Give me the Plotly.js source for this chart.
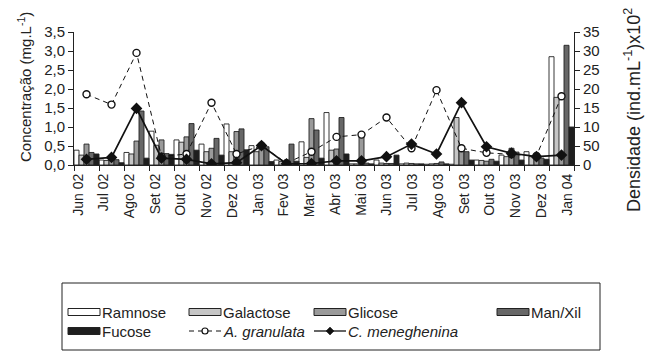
<!DOCTYPE html>
<html>
<head>
<meta charset="utf-8">
<script src="https://cdn.plot.ly/plotly-3.0.1.min.js"></script>
<style>html,body{margin:0;padding:0;background:#fff;}#chart{width:648px;height:362px;}</style>
</head>
<body>
<div id="chart"></div>
<script>
// ---- data ----
const months = ['Jun 02','Jul 02','Ago 02','Set 02','Out 02','Nov 02','Dez 02','Jan 03','Fev 03','Mar 03',
                'Abr 03','Mai 03','Jun 03','Jul 03','Ago 03','Set 03','Out 03','Nov 03','Dez 03','Jan 04'];
const ramnose   = [0.39,0.13,0.33,0.89,0.66,0.55,1.08,0.51,0.13,0.61,1.38,0.03,0.13,0.03,0.02,0.02,0.13,0.26,0.35,2.85];
const galactose = [0.26,0.12,0.29,0.52,0.60,0.35,0.35,0.35,0.09,0.20,0.39,0.03,0.05,0.05,0.03,1.25,0.12,0.22,0.22,1.78];
const glicose   = [0.55,0.18,0.63,0.66,0.74,0.44,0.88,0.57,0.10,1.22,0.42,0.78,0.04,0.04,0.04,0.40,0.10,0.44,0.22,0.20];
const manxil    = [0.33,0.14,1.42,0.30,1.09,0.70,0.95,0.48,0.55,0.92,1.25,0.05,0.04,0.03,0.08,0.35,0.15,0.34,0.18,3.15];
const fucose    = [0.29,0.06,0.18,0.28,0.39,0.26,0.40,0.09,0.10,0.18,0.29,0.03,0.26,0.03,0.03,0.13,0.10,0.13,0.15,1.00];
const aGranulata   = [18.6,15.9,29.5,2.2,2.9,16.4,2.9,5.1,0.5,3.5,7.4,8.0,12.5,4.4,19.7,4.4,3.2,2.8,2.4,18.1];
const cMeneghenina = [1.5,2.0,14.9,1.8,1.5,0.3,0.6,5.1,0.3,0.4,1.1,1.1,2.2,5.5,2.9,16.4,4.8,3.1,2.2,2.6];
const barNames = ['Ramnose','Galactose','Glicose','Man/Xil','Fucose'];
const lineNames = ['A. granulata','C. meneghenina'];
const yLeftTitle = 'Concentração (mg.L<sup>-1</sup>)';
const yRightTitle = 'Densidade (ind.mL<sup>-1</sup>)x10<sup>2</sup>';
const yLeftTicks = [0,0.5,1,1.5,2,2.5,3,3.5];
const yLeftTickText = ['0,0','0,5','1,0','1,5','2,0','2,5','3,0','3,5'];
const yRightTicks = [0,5,10,15,20,25,30,35];
const yRightTickText = ['0','50','10','15','20','25','30','35'];

// ---- style ----
const barColors = ['#ffffff','#c6c6c6','#9a9a9a','#676767','#1e1e1e'];
const FONT = 'Liberation Sans, Arial, sans-serif';
const INK = '#222';
const W = 648, H = 362, ML = 74, MR = 74, MT = 32, MB = 197;
const PW = W - ML - MR, PH = H - MT - MB;
const px = x => (x - ML) / PW;
const py = y => (H - MB - y) / PH;

const barSeries = [ramnose, galactose, glicose, manxil, fucose];
const traces = barSeries.map((vals, k) => ({
  type: 'bar', name: barNames[k], x: months, y: vals, xaxis: 'x', yaxis: 'y',
  marker: {color: barColors[k], line: {color: INK, width: 0.9}},
  showlegend: false, hoverinfo: 'skip'
}));
traces.push({
  type: 'scatter', mode: 'lines+markers', name: lineNames[0], x: months, y: aGranulata,
  xaxis: 'x', yaxis: 'y2',
  line: {color: '#111', width: 1, dash: '5px,4px'},
  marker: {symbol: 'circle', size: 7, color: '#fff', line: {color: '#111', width: 1.4}},
  showlegend: false, hoverinfo: 'skip'
});
traces.push({
  type: 'scatter', mode: 'lines+markers', name: lineNames[1], x: months, y: cMeneghenina,
  xaxis: 'x', yaxis: 'y2',
  line: {color: '#111', width: 1.7},
  marker: {symbol: 'diamond', size: 9, color: '#111'},
  showlegend: false, hoverinfo: 'skip'
});
// label carrier axis
traces.push({
  type: 'scatter', mode: 'markers', x: months.map((m, i) => i), y: months.map(() => null),
  xaxis: 'x2', yaxis: 'y', showlegend: false, hoverinfo: 'skip'
});

// ---- legend (custom) ----
const shapes = [];
const annotations = [];
const LF = {family: FONT, size: 15, color: INK};
shapes.push({type: 'rect', xref: 'paper', yref: 'paper', x0: px(62), x1: px(600), y0: py(350), y1: py(283),
  line: {color: INK, width: 1}, fillcolor: 'rgba(0,0,0,0)'});
const row1 = 312, row2 = 331;
const col = [68, 189, 314, 497];
const barLegendPos = [[col[0],row1],[col[1],row1],[col[2],row1],[col[3],row1],[col[0],row2]];
barNames.forEach((n, k) => {
  const [x, y] = barLegendPos[k];
  shapes.push({type: 'rect', xref: 'paper', yref: 'paper', x0: px(x), x1: px(x + 32), y0: py(y + 3.5), y1: py(y - 3.5),
    line: {color: INK, width: 1}, fillcolor: barColors[k]});
  annotations.push({xref: 'paper', yref: 'paper', x: px(x + 32), y: py(y), xanchor: 'left', yanchor: 'middle',
    showarrow: false, text: n, font: LF});
});
// A. granulata sample
const ax = col[1], cx = col[2];
shapes.push({type: 'line', xref: 'paper', yref: 'paper', x0: px(ax), x1: px(ax + 32), y0: py(row2), y1: py(row2),
  line: {color: '#111', width: 1, dash: '5px,4px'}});
shapes.push({type: 'circle', xref: 'paper', yref: 'paper', x0: px(ax + 13), x1: px(ax + 19), y0: py(row2 + 3), y1: py(row2 - 3),
  line: {color: '#111', width: 1.2}, fillcolor: '#fff'});
annotations.push({xref: 'paper', yref: 'paper', x: px(ax + 32), y: py(row2), xanchor: 'left', yanchor: 'middle',
  showarrow: false, text: '<i>' + lineNames[0] + '</i>', font: LF});
// C. meneghenina sample
shapes.push({type: 'line', xref: 'paper', yref: 'paper', x0: px(cx), x1: px(cx + 32), y0: py(row2), y1: py(row2),
  line: {color: '#111', width: 1.3}});
const dc = cx + 16;
shapes.push({type: 'path', xref: 'paper', yref: 'paper',
  path: `M ${px(dc-4)} ${py(row2)} L ${px(dc)} ${py(row2-4)} L ${px(dc+4)} ${py(row2)} L ${px(dc)} ${py(row2+4)} Z`,
  line: {color: '#111', width: 0.5}, fillcolor: '#111'});
annotations.push({xref: 'paper', yref: 'paper', x: px(cx + 32), y: py(row2), xanchor: 'left', yanchor: 'middle',
  showarrow: false, text: '<i>' + lineNames[1] + '</i>', font: LF});

// axis titles as annotations for exact placement
annotations.push({xref: 'paper', yref: 'paper', x: px(24), y: py(87), xanchor: 'center', yanchor: 'middle',
  textangle: -90, showarrow: false, text: yLeftTitle, font: {family: FONT, size: 15, color: INK}});
annotations.push({xref: 'paper', yref: 'paper', x: px(632), y: py(110), xanchor: 'center', yanchor: 'middle',
  textangle: -90, showarrow: false, text: yRightTitle, font: {family: FONT, size: 18, color: INK}});

const layout = {
  width: W, height: H,
  margin: {l: ML, r: MR, t: MT, b: MB, pad: 0},
  paper_bgcolor: '#fff', plot_bgcolor: '#fff',
  font: {family: FONT, size: 14, color: INK},
  barmode: 'group', bargap: 0.0, bargroupgap: 0,
  showlegend: false,
  xaxis: {
    type: 'category', categoryorder: 'array', categoryarray: months,
    range: [-0.5, months.length - 0.5],
    tickson: 'boundaries', ticks: 'outside', ticklen: 5, tickcolor: INK, tickwidth: 1,
    showticklabels: false, showline: true, linecolor: INK, linewidth: 1,
    showgrid: false, zeroline: false, fixedrange: true
  },
  xaxis2: {
    overlaying: 'x', anchor: 'y', side: 'bottom', type: 'linear',
    range: [-0.155, 19.27],
    tickmode: 'array', tickvals: months.map((m, i) => i), ticktext: months,
    tickangle: -90, ticks: '', showline: false, showgrid: false, zeroline: false,
    tickfont: {family: FONT, size: 14, color: INK}, ticklabelstandoff: 5
  },
  yaxis: {
    range: [0, 3.5], tickmode: 'array', tickvals: yLeftTicks, ticktext: yLeftTickText,
    ticks: 'outside', ticklen: 5, tickcolor: INK, showline: true, linecolor: INK, linewidth: 1,
    showgrid: false, zeroline: false,
    tickfont: {family: FONT, size: 15, color: INK}
  },
  yaxis2: {
    overlaying: 'y', side: 'right', anchor: 'x',
    range: [0, 35], tickmode: 'array', tickvals: yRightTicks, ticktext: yRightTickText,
    ticks: 'outside', ticklen: 5, tickcolor: INK, showline: true, linecolor: INK, linewidth: 1,
    showgrid: false, zeroline: false,
    tickfont: {family: FONT, size: 15, color: INK}
  },
  shapes: shapes,
  annotations: annotations
};

Plotly.newPlot('chart', traces, layout, {staticPlot: true, displayModeBar: false});
</script>
</body>
</html>
